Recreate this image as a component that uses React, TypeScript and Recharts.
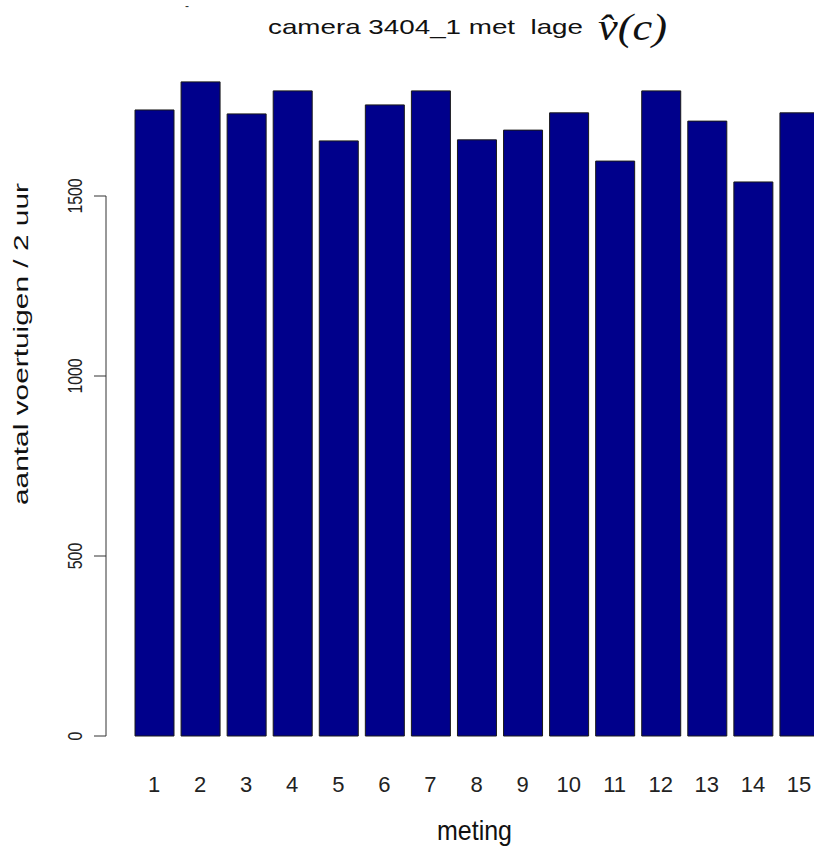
import React from "react";
import { BarChart, Bar, XAxis, YAxis } from "recharts";

const metingen = ["1", "2", "3", "4", "5", "6", "7", "8", "9", "10", "11", "12", "13", "14", "15"];
const aantallen = [1739, 1817, 1728, 1792, 1653, 1753, 1792, 1656, 1683, 1731, 1597, 1792, 1708, 1539, 1731];
const yTicks = [0, 500, 1000, 1500];

const data = metingen.map((m, i) => ({ meting: m, aantal: aantallen[i] }));

const W = 814;
const H = 847;
const TOP = 52;
const BOTTOM = 111;
const Y_MAX = 1900;
const PLOT_H = H - TOP - BOTTOM;
const STEP_PX = (PLOT_H * 500) / Y_MAX;
const FONT = "'Liberation Sans', Arial, sans-serif";

// R-style y axis: line only from 0 to the last tick, rotated labels
const YTick = (props: any) => {
  const { x, y, payload } = props;
  const ax = x - 25;
  const label = String(payload.value);
  const lx = x - 49;
  return (
    <g>
      <line x1={ax} y1={y} x2={ax - 12} y2={y} stroke="#333" strokeWidth={1} />
      {payload.value > 0 && (
        <line x1={ax} y1={y} x2={ax} y2={y + STEP_PX} stroke="#333" strokeWidth={1} />
      )}
      <text
        x={lx}
        y={y}
        transform={`rotate(-90 ${lx} ${y})`}
        textAnchor="middle"
        fontSize={20}
        textLength={label.length * 8.8}
        lengthAdjust="spacingAndGlyphs"
        fontFamily={FONT}
        fill="#222"
      >
        {label}
      </text>
    </g>
  );
};

export default function App() {
  return (
    <div style={{ position: "absolute", left: 0, top: 0, background: "#fff" }}>
      <BarChart
        width={W}
        height={H}
        data={data}
        margin={{ top: TOP, right: -8, left: 71, bottom: BOTTOM - 30 }}
        barCategoryGap={0}
      >
        <XAxis
          dataKey="meting"
          height={30}
          axisLine={false}
          tickLine={false}
          tickSize={0}
          tickMargin={40}
          interval={0}
          tick={{ fontSize: 22, fontFamily: FONT, fill: "#222" }}
        />
        <YAxis
          width={60}
          domain={[0, Y_MAX]}
          ticks={yTicks}
          axisLine={false}
          tickLine={false}
          tickSize={0}
          tickMargin={0}
          tick={<YTick />}
        />
        <Bar
          dataKey="aantal"
          fill="#00008B"
          stroke="#1a1a1a"
          strokeWidth={1}
          barSize={39}
          isAnimationActive={false}
        />
        <text
          x={268}
          y={34}
          fontSize={21}
          textLength={315}
          lengthAdjust="spacingAndGlyphs"
          fontFamily={FONT}
          fill="#111"
        >
          {"camera 3404_1 met\u00a0 lage"}
        </text>
        <text
          x={598}
          y={40}
          fontSize={38}
          textLength={69}
          lengthAdjust="spacingAndGlyphs"
          fontFamily="'Liberation Serif', serif"
          fontStyle="italic"
          fill="#111"
        >
          {"v\u0302(c)"}
        </text>
        <text x={185} y={10} fontSize={12} fontFamily={FONT} fill="#333">-</text>
        <text
          x={437}
          y={840}
          fontSize={28}
          textLength={75}
          lengthAdjust="spacingAndGlyphs"
          fontFamily={FONT}
          fill="#111"
        >
          meting
        </text>
        <text
          x={28}
          y={344}
          transform="rotate(-90 28 344)"
          textAnchor="middle"
          fontSize={20}
          textLength={322}
          lengthAdjust="spacingAndGlyphs"
          fontFamily={FONT}
          fill="#111"
        >
          aantal voertuigen / 2 uur
        </text>
      </BarChart>
    </div>
  );
}
